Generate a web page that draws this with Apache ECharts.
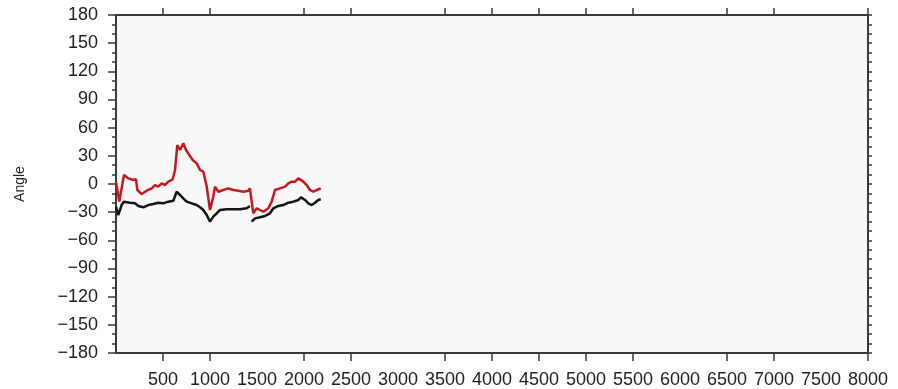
<!DOCTYPE html>
<html>
<head>
<meta charset="utf-8">
<script src="https://cdn.jsdelivr.net/npm/echarts@6/dist/echarts.min.js"></script>
<style>
html,body{margin:0;padding:0;background:#fff;}
#chart{width:898px;height:389px;}
</style>
</head>
<body>
<div id="chart"></div>
<script>
// ---- data ----
var redX = [0,35,85,131,184,213,227,273,326,380,415,450,486,521,557,603,628,652,681,716,745,780,816,858,894,929,965,1000,1035,1053,1088,1141,1195,1248,1301,1354,1407,1425,1443,1461,1497,1532,1567,1620,1656,1691,1745,1798,1833,1869,1904,1940,1957,1993,2028,2064,2099,2135,2178];
var redY = [2.5,-18.8,9.6,6.0,4.3,5.0,-6.4,-10.7,-7.1,-4.6,-1.1,-2.8,0.7,-1.1,2.5,5.0,14.9,41.5,36.2,43.3,36.2,30.9,25.6,22.0,14.9,13.1,-2.8,-27.7,-13.5,-2.8,-8.2,-6.4,-4.6,-6.4,-7.1,-8.2,-7.1,-4.6,-18.8,-31.2,-25.9,-27.7,-29.5,-25.9,-18.8,-6.4,-4.6,-2.8,0.7,2.5,2.5,6.0,7.8,2.5,-1.1,-6.4,-8.2,-6.4,-4.6];
var blackX = [0,24,60,85,149,202,238,291,344,397,450,503,557,610,645,681,716,752,805,858,894,929,965,1000,1035,1071,1106,1177,1248,1319,1390,1425,1434,1443,1479,1532,1585,1638,1674,1727,1780,1833,1886,1940,1968,2011,2046,2082,2117,2152,2178];
var blackY = [-24.2,-33.0,-22.4,-18.8,-19.9,-20.6,-23.4,-24.8,-22.4,-21.3,-19.9,-20.6,-18.8,-17.8,-8.2,-11.7,-15.2,-18.8,-20.6,-22.4,-24.8,-27.7,-33.0,-40.1,-34.8,-31.2,-27.7,-27.0,-27.0,-27.0,-25.9,-23.4,null,-40.1,-36.6,-35.5,-34.1,-31.2,-25.9,-23.4,-22.4,-19.9,-18.8,-17.0,-14.2,-17.0,-20.6,-22.4,-19.9,-17.0,-16.3];
var xTickLabels = [500,1000,1500,2000,2500,3000,3500,4000,4500,5000,5500,6000,6500,7000,7500,8000];
var xTickMarks = [500,1000,2000,2500,3500,4000,4500,5000,5500,6500,7000,8000];
var xTickSlots = [0,500,1000,1500,2000,2500,3000,3500,4000,4500,5000,5500,6000,6500,7000,7500,8000];
var yAxisName = 'Angle';

function pairs(xs, ys){ return xs.map(function(x,i){ return [x, ys[i]]; }); }
function minus(v){ return String(v).replace('-', '\u2212'); }
function tickShown(i, v){ return xTickMarks.indexOf(Number(v)) >= 0; }

var axisColor = '#3a3a3a';
var labelFont = 'Liberation Sans, Arial, sans-serif';

var chart = echarts.init(document.getElementById('chart'), null, {renderer:'canvas'});
chart.setOption({
  animation: false,
  backgroundColor: '#ffffff',
  grid: {left:116, right:30, top:15, bottom:36, show:true, backgroundColor:'#f8f8f8', borderWidth:0},
  xAxis: [{
    type:'value', min:0, max:8000, interval:500, position:'bottom',
    axisLine:{show:true, onZero:false, lineStyle:{color:axisColor, width:2}},
    axisTick:{show:false},
    axisLabel:{show:true, customValues:xTickLabels, margin:18, fontSize:18, color:'#222', fontFamily:labelFont, hideOverlap:false,
      formatter:function(v){ return String(v); }},
    splitLine:{show:false}
  },{
    type:'value', min:0, max:8000, interval:500, position:'top',
    axisLine:{show:true, onZero:false, lineStyle:{color:axisColor, width:2}},
    axisTick:{show:false},
    axisLabel:{show:false},
    splitLine:{show:false}
  },{
    type:'category', data:xTickSlots, boundaryGap:false, position:'bottom',
    axisLine:{show:false, onZero:false},
    axisTick:{show:true, inside:false, length:8, interval:tickShown, lineStyle:{color:axisColor, width:1.5}},
    axisLabel:{show:false},
    splitLine:{show:false}
  },{
    type:'category', data:xTickSlots, boundaryGap:false, position:'top',
    axisLine:{show:false, onZero:false},
    axisTick:{show:true, inside:false, length:7, interval:tickShown, lineStyle:{color:axisColor, width:1.5}},
    axisLabel:{show:false},
    splitLine:{show:false}
  }],
  yAxis: [{
    type:'value', min:-180, max:180, interval:30, position:'left',
    name:yAxisName, nameLocation:'middle', nameGap:89, nameRotate:90,
    nameTextStyle:{fontSize:14, color:'#222', fontFamily:labelFont},
    axisLine:{show:true, onZero:false, lineStyle:{color:axisColor, width:2}},
    axisTick:{show:true, inside:false, length:8, lineStyle:{color:axisColor, width:1.5}},
    minorTick:{show:true, splitNumber:3, length:4, lineStyle:{color:axisColor, width:1.5}},
    axisLabel:{show:true, margin:18, fontSize:18, color:'#222', fontFamily:labelFont, formatter:minus},
    splitLine:{show:false}, minorSplitLine:{show:false}
  },{
    type:'value', min:-180, max:180, interval:10, position:'right',
    axisLine:{show:true, onZero:false, lineStyle:{color:axisColor, width:2}},
    axisTick:{show:true, inside:false, length:4, lineStyle:{color:axisColor, width:1.5}},
    axisLabel:{show:false},
    splitLine:{show:false}
  }],
  series: [{
    type:'line', name:'red', xAxisIndex:0, yAxisIndex:0,
    data:pairs(redX, redY), showSymbol:false, symbol:'none',
    lineStyle:{color:'#c41a1f', width:2.5}, z:3
  },{
    type:'line', name:'black', xAxisIndex:0, yAxisIndex:0,
    data:pairs(blackX, blackY), showSymbol:false, symbol:'none', connectNulls:false,
    lineStyle:{color:'#151515', width:2.5}, z:2
  }]
});
</script>
</body>
</html>
